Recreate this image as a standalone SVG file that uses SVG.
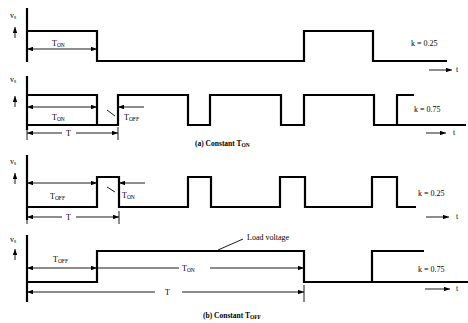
<svg xmlns="http://www.w3.org/2000/svg" width="468" height="323" viewBox="0 0 468 323">
<style>
.w{fill:none;stroke:#000;stroke-width:2.2;stroke-linejoin:miter}
.ax{fill:none;stroke:#000;stroke-width:2.2}
.d{fill:none;stroke:#000;stroke-width:0.9}
.t{font-family:"Liberation Serif",serif;font-size:8px;fill:#000}
.s{font-size:5.5px}
.c{font-family:"Liberation Serif",serif;font-size:7.5px;font-weight:bold;fill:#000}
</style>
<defs>
<marker id="ah" viewBox="0 0 8 6" refX="8" refY="3" markerWidth="6" markerHeight="4.5" orient="auto-start-reverse" markerUnits="userSpaceOnUse"><path d="M0,0L8,3L0,6Z" fill="#000"/></marker>
</defs>
<rect width="468" height="323" fill="#fff"/>

<g id="panel1">
<line class="ax" x1="27" y1="8" x2="27" y2="62"/>
<polyline class="w" points="27,31 97,31 97,61 304,61 304,31 373,31 373,61 447,61"/>
<text class="t" x="10" y="18" font-size="6">v<tspan class="s" dy="1">s</tspan></text>
<line class="d" x1="15" y1="38" x2="15" y2="27" stroke-width="1.6" marker-end="url(#ah)"/>
<line class="d" x1="27" y1="49" x2="97" y2="49" marker-start="url(#ah)" marker-end="url(#ah)"/>
<text class="t" x="52" y="46">T<tspan class="s" dy="1">ON</tspan></text>
<text class="t" x="411" y="46" font-size="7">k = 0.25</text>
<line class="d" x1="429" y1="70" x2="452" y2="70" marker-end="url(#ah)"/>
<text class="t" x="456" y="72" font-size="7">t</text>
</g>

<g id="panel2">
<line class="ax" x1="27" y1="76" x2="27" y2="130"/>
<polyline class="w" points="27,95 97,95 97,125 118,125 118,95 188,95 188,125 210,125 210,95 281,95 281,125 304,125 304,95 374,95 374,125 397,125 397,95 414,95"/>
<line class="w" x1="27" y1="125" x2="97" y2="125"/>
<line class="w" x1="397" y1="125" x2="466" y2="125"/>
<text class="t" x="10" y="82" font-size="6">v<tspan class="s" dy="1">s</tspan></text>
<line class="d" x1="15" y1="107" x2="15" y2="96" stroke-width="1.6" marker-end="url(#ah)"/>
<line class="d" x1="27" y1="107" x2="97" y2="107" marker-start="url(#ah)" marker-end="url(#ah)"/>
<text class="t" x="52" y="120">T<tspan class="s" dy="1">ON</tspan></text>
<line class="d" x1="144" y1="107" x2="118" y2="107" marker-end="url(#ah)"/>
<line class="d" x1="107" y1="110" x2="115" y2="116"/>
<text class="t" x="124" y="120">T<tspan class="s" dy="1">OFF</tspan></text>
<line class="d" x1="27" y1="133" x2="62" y2="133" marker-start="url(#ah)"/>
<line class="d" x1="76" y1="133" x2="118" y2="133" marker-end="url(#ah)"/>
<line class="d" x1="27" y1="127" x2="27" y2="140" stroke-width="1.4"/>
<line class="d" x1="118" y1="127" x2="118" y2="140" stroke-width="1.4"/>
<text class="t" x="66" y="136">T</text>
<text class="t" x="414" y="112" font-size="7">k = 0.75</text>
<line class="d" x1="426" y1="133" x2="446" y2="133" marker-end="url(#ah)"/>
<text class="t" x="453" y="135" font-size="7">t</text>
<text class="c" x="195" y="146">(a) Constant T<tspan class="s" dy="1">ON</tspan></text>
</g>

<g id="panel3">
<line class="ax" x1="27" y1="155" x2="27" y2="220"/>
<polyline class="w" points="27,207 97,207 97,177 119,177 119,207 188,207 188,177 211,177 211,207 280,207 280,177 305,177 305,207 372,207 372,177 397,177 397,207 416,207"/>
<text class="t" x="10" y="164" font-size="6">v<tspan class="s" dy="1">s</tspan></text>
<line class="d" x1="15" y1="184" x2="15" y2="173" stroke-width="1.6" marker-end="url(#ah)"/>
<line class="d" x1="27" y1="183" x2="97" y2="183" marker-start="url(#ah)" marker-end="url(#ah)"/>
<text class="t" x="50" y="199">T<tspan class="s" dy="1">OFF</tspan></text>
<line class="d" x1="145" y1="183" x2="119" y2="183" marker-end="url(#ah)"/>
<line class="d" x1="107" y1="187" x2="115" y2="192"/>
<text class="t" x="122" y="198">T<tspan class="s" dy="1">ON</tspan></text>
<line class="d" x1="27" y1="217" x2="62" y2="217" marker-start="url(#ah)"/>
<line class="d" x1="76" y1="217" x2="119" y2="217" marker-end="url(#ah)"/>
<line class="d" x1="27" y1="211" x2="27" y2="224" stroke-width="1.4"/>
<line class="d" x1="119" y1="211" x2="119" y2="224" stroke-width="1.4"/>
<text class="t" x="66" y="220">T</text>
<text class="t" x="418" y="196" font-size="7">k = 0.25</text>
<line class="d" x1="426" y1="217" x2="449" y2="217" marker-end="url(#ah)"/>
<text class="t" x="456" y="219" font-size="7">t</text>
</g>

<g id="panel4">
<line class="ax" x1="27" y1="235" x2="27" y2="302"/>
<polyline class="w" points="27,282 97,282 97,251 304,251 304,282 372,282 372,251 424,251"/>
<line class="w" x1="372" y1="282" x2="468" y2="282"/>
<text class="t" x="10" y="242" font-size="6">v<tspan class="s" dy="1">s</tspan></text>
<line class="d" x1="15" y1="260" x2="15" y2="249" stroke-width="1.6" marker-end="url(#ah)"/>
<line class="d" x1="27" y1="268" x2="97" y2="268" marker-start="url(#ah)" marker-end="url(#ah)"/>
<text class="t" x="53" y="262">T<tspan class="s" dy="1">OFF</tspan></text>
<line class="d" x1="97" y1="268" x2="179" y2="268"/>
<line class="d" x1="210" y1="268" x2="304" y2="268" marker-end="url(#ah)"/>
<text class="t" x="182" y="271">T<tspan class="s" dy="1">ON</tspan></text>
<line class="d" x1="27" y1="292" x2="155" y2="292" marker-start="url(#ah)"/>
<line class="d" x1="182" y1="292" x2="304" y2="292" marker-end="url(#ah)"/>
<line class="d" x1="27" y1="285" x2="27" y2="302" stroke-width="1.4"/>
<line class="d" x1="304" y1="285" x2="304" y2="302" stroke-width="1.4"/>
<text class="t" x="165" y="295">T</text>
<line class="d" x1="218" y1="250" x2="243" y2="239"/>
<text class="t" x="247" y="240">Load voltage</text>
<text class="t" x="418" y="272" font-size="7">k = 0.75</text>
<line class="d" x1="425" y1="289" x2="450" y2="289" marker-end="url(#ah)"/>
<text class="t" x="456" y="291" font-size="7">t</text>
<text class="c" x="203" y="318">(b) Constant T<tspan class="s" dy="1">OFF</tspan></text>
</g>
</svg>
